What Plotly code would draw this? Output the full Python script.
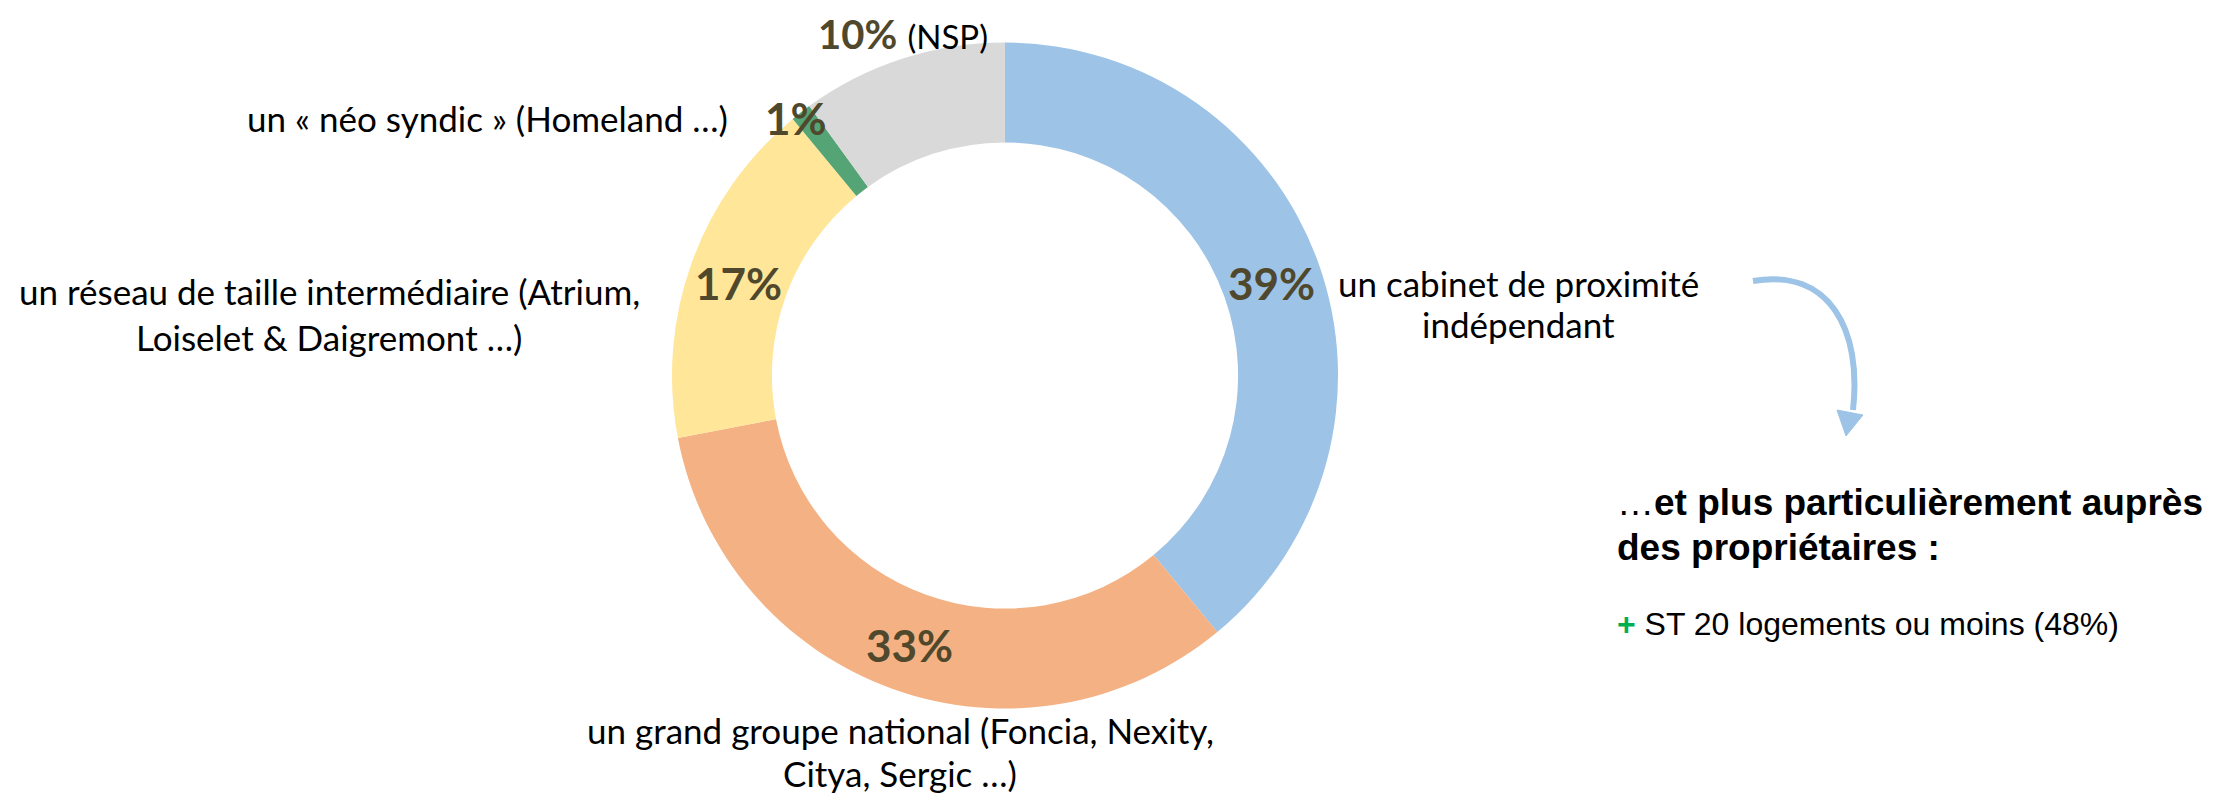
import math
import plotly.graph_objects as go

# ---- data ----
categories = [
    "un cabinet de proximité indépendant",
    "un grand groupe national (Foncia, Nexity, Citya, Sergic …)",
    "un réseau de taille intermédiaire (Atrium, Loiselet & Daigremont …)",
    "un « néo syndic » (Homeland …)",
    "NSP",
]
values = [39, 33, 17, 1, 10]
colors = ["#9DC3E6", "#F4B183", "#FFE699", "#55A475", "#D9D9D9"]
ring_labelled = [True, True, True, False, False]

W, H = 2229, 793
OFF = 8  # default page body margin
LABEL_FONT = "Lato, Calibri, Carlito, sans-serif"
ARIAL = "Liberation Sans, Arial, sans-serif"
PCT_COLOR = "#4F482C"
HOLE = 0.70


def px(x):
    return (x - OFF) / W


def py(y):
    return 1 - (y - OFF) / H


cx, cy, R = 1005, 375.5, 333

fig = go.Figure()
fig.add_trace(go.Pie(
    labels=categories,
    values=values,
    sort=False,
    direction="clockwise",
    rotation=0,
    hole=HOLE,
    marker=dict(colors=colors, line=dict(width=0)),
    textinfo="none",
    showlegend=False,
    hoverinfo="label+percent",
    domain=dict(x=[px(cx - R), px(cx + R)], y=[py(cy + R), py(cy - R)]),
))

ann = []


def add_text(text, x, y, xanchor="center", size=35, family=LABEL_FONT, color="#000000", align="center"):
    ann.append(dict(
        text=text, x=px(x), y=py(y), xref="paper", yref="paper",
        xanchor=xanchor, yanchor="middle", showarrow=False, align=align,
        font=dict(family=family, size=size, color=color),
    ))


# percentage labels in the middle of the ring, placed from the values
total = sum(values)
r_mid = R * (1 + HOLE) / 2
cum = 0
for v, lab in zip(values, ring_labelled):
    ang = math.radians((cum + v / 2) / total * 360)
    cum += v
    if lab:
        add_text("<b>%d%%</b>" % v, cx + r_mid * math.sin(ang), cy - r_mid * math.cos(ang) + 3,
                 size=44, color=PCT_COLOR)

# category labels (one annotation per line)
add_text("un cabinet de proximité", 1518, 283)
add_text("indépendant", 1518, 324)
add_text("un grand groupe national (Foncia, Nexity,", 900, 730)
add_text("Citya, Sergic …)", 900, 773)
add_text("un réseau de taille intermédiaire (Atrium,", 329, 291)
add_text("Loiselet &amp; Daigremont …)", 329, 337)
add_text("un « néo syndic » (Homeland …)", 730, 118, xanchor="right", align="right")

# small-slice percentages
add_text("<b>%d%%</b>" % values[3], 796, 118, size=44, color=PCT_COLOR)
add_text("<b>%d%%</b> <span style='font-size:33px;color:#000000'>(%s)</span>" % (values[4], categories[4]),
         816, 34, xanchor="left", size=40, color=PCT_COLOR, align="left")

# right-hand text block
add_text("…<b>et plus particulièrement auprès</b>", 1615, 503, xanchor="left", size=37, family=ARIAL, align="left")
add_text("<b>des propriétaires :</b>", 1615, 547, xanchor="left", size=37, family=ARIAL, align="left")
add_text("<span style='color:#00B050'><b>+</b></span> ST 20 logements ou moins (48%)", 1615, 624,
         xanchor="left", size=32, family=ARIAL, align="left")

# curved arrow
arrow_col = "#9DC3E6"
path = "M %f,%f C %f,%f %f,%f %f,%f" % (
    px(1753), py(281), px(1830), py(268), px(1862), py(330), px(1853), py(410))
head = "M %f,%f L %f,%f L %f,%f Z" % (
    px(1837), py(410), px(1863), py(415), px(1846), py(436))

fig.update_layout(
    width=W, height=H,
    margin=dict(l=0, r=0, t=0, b=0),
    paper_bgcolor="white",
    plot_bgcolor="white",
    annotations=ann,
    shapes=[
        dict(type="path", path=path, xref="paper", yref="paper",
             line=dict(color=arrow_col, width=6)),
        dict(type="path", path=head, xref="paper", yref="paper",
             fillcolor=arrow_col, line=dict(color=arrow_col, width=1)),
    ],
)

fig.write_html("out.html")
